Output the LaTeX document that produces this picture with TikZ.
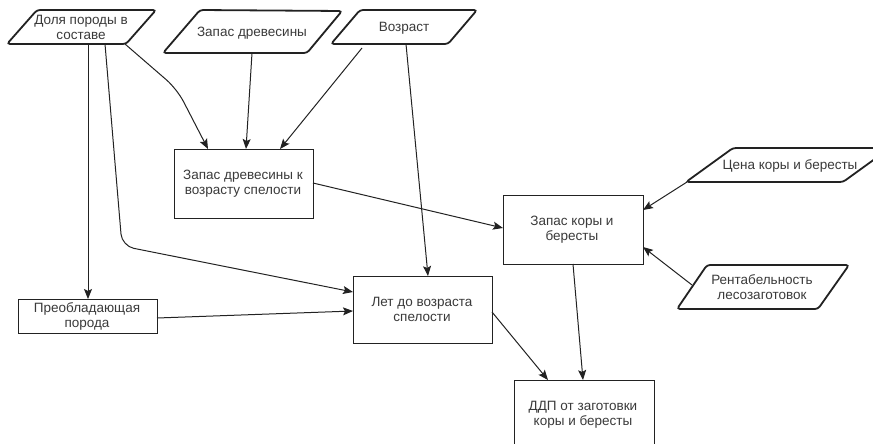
\documentclass[tikz,border=0pt]{standalone}
\usepackage{fontspec}
\setmainfont{Liberation Sans}
\usetikzlibrary{arrows.meta}
\definecolor{txt}{HTML}{3A3A3A}
\definecolor{ln}{HTML}{222222}
\tikzset{
  lbl/.style={text=txt,align=center,font=\fontsize{13.5}{15}\selectfont,inner sep=0pt},
  para/.style={draw=ln,line width=1.8pt,rounded corners=3pt,fill=white},
  boxr/.style={draw=ln,line width=1pt,fill=white},
  conn/.style={draw=ln,line width=1pt,-{Stealth[length=10pt,width=8pt,inset=2pt]}},
  plain/.style={draw=ln,line width=1pt}
}
\begin{document}
\begin{tikzpicture}[x=1pt,y=-1pt]
\useasboundingbox (0,0) rectangle (873,444);
\begin{scope}
\clip (0,0) rectangle (873,444);
% input parallelograms
\draw[para] (37,10) -- (156,10) -- (126,44) -- (7,44) -- cycle;
\draw[para] (200,10) -- (342,11) -- (307,53) -- (163,53) -- cycle;
\draw[para] (360,10) -- (477,10) -- (448,44) -- (331,44) -- cycle;
\draw[para] (733,148) -- (890,148) -- (843,182) -- (686,182) -- cycle;
\draw[para] (707,265) -- (849,265) -- (818,309) -- (677,309) -- cycle;
% rectangles
\draw[boxr] (174,149) rectangle (313,218);
\draw[boxr] (503,195) rectangle (643,264);
\draw[boxr] (18,299) rectangle (157,333);
\draw[boxr] (353,276) rectangle (492,343);
\draw[boxr] (514,380) rectangle (654,452);
\end{scope}
% labels
\node[lbl] (dola) at (81,27) {Доля породы в\\составе};
\node[lbl] (zd) at (252,33) {Запас древесины};
\node[lbl] (voz) at (404,28) {Возраст};
\node[lbl] (cena) at (790,166) {Цена коры и бересты};
\node[lbl] (rent) at (762,287) {Рентабельность\\лесозаготовок};
\node[lbl] (zdv) at (243,184) {Запас древесины к\\возрасту спелости};
\node[lbl] (zkb) at (572,230) {Запас коры и\\бересты};
\node[lbl] (pp) at (87,316) {Преобладающая\\порода};
\node[lbl] (let) at (422,309) {Лет до возраста\\спелости};
\node[lbl] (ddp) at (583,415) {ДДП от заготовки\\коры и бересты};
% anchor coordinates
\coordinate (dolaA) at (88,44);
\coordinate (dolaB) at (105,44);
\coordinate (dolaC) at (125,44);
\coordinate (zdB) at (252,53);
\coordinate (vozA) at (362,48);
\coordinate (vozB) at (406,44);
\coordinate (cenaB) at (687,182);
\coordinate (rentB) at (692,285);
\coordinate (zdvT1) at (208,149);
\coordinate (zdvT2) at (246,149);
\coordinate (zdvT3) at (280,149);
\coordinate (zdvR) at (313,183);
\coordinate (zkbL) at (503,228);
\coordinate (zkbR1) at (643,210);
\coordinate (zkbR2) at (643,247);
\coordinate (zkbB) at (573,264);
\coordinate (ppT) at (88,299);
\coordinate (ppR) at (157,318);
\coordinate (letL1) at (353,292);
\coordinate (letL2) at (353,311);
\coordinate (letT) at (428,276);
\coordinate (letR) at (492,312);
\coordinate (ddpT1) at (548,380);
\coordinate (ddpT2) at (583,380);
% connectors
\draw[conn] (dolaA) -- (ppT);
\draw[conn,rounded corners=12pt] (dolaB) -- (122,246) -- (letL1);
\draw[conn,rounded corners=14pt] (dolaC) -- (177,89) -- (zdvT1);
\draw[conn] (zdB) -- (zdvT2);
\draw[conn] (vozA) -- (zdvT3);
\draw[conn] (vozB) -- (letT);
\draw[conn] (zdvR) -- (zkbL);
\draw[conn] (cenaB) -- (zkbR1);
\draw[conn] (rentB) -- (zkbR2);
\draw[conn] (zkbB) -- (ddpT2);
\draw[conn] (letR) -- (ddpT1);
\draw[conn] (ppR) -- (letL2);
\end{tikzpicture}
\end{document}
